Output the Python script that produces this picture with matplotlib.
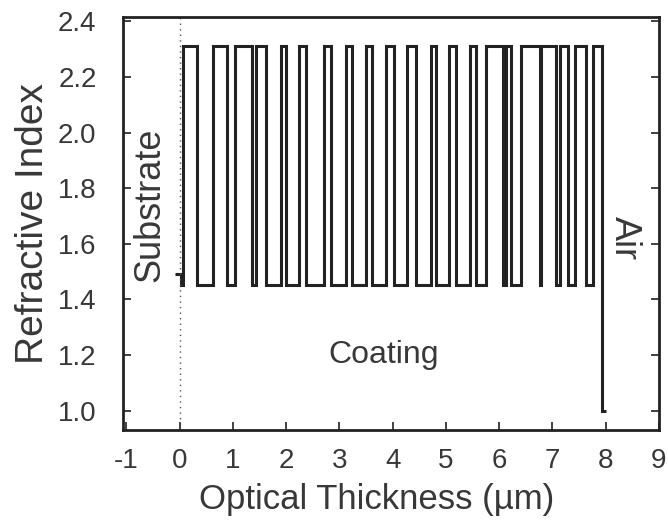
import matplotlib.pyplot as plt

# ─── Index profile: layer boundaries (optical thickness, µm) and indices ─────

edges = [-0.08, 0.02, 0.07, 0.32, 0.62, 0.88, 1.03, 1.35, 1.44, 1.63,
         1.90, 2.00, 2.24, 2.37, 2.71, 2.84, 3.12, 3.23, 3.50, 3.61,
         3.87, 4.02, 4.26, 4.43, 4.71, 4.82, 5.05, 5.18, 5.46, 5.57,
         5.76, 6.07, 6.13, 6.22, 6.41, 6.77, 6.79, 7.07, 7.14, 7.29,
         7.42, 7.63, 7.76, 7.93, 8.00]

n_sub, n_low, n_high, n_air = 1.49, 1.45, 2.31, 1.00

index = [n_sub,
         n_low, n_high, n_low, n_high, n_low, n_high, n_low, n_high,
         n_low, n_high, n_low, n_high, n_low, n_high, n_low, n_high,
         n_low, n_high, n_low, n_high, n_low, n_high, n_low, n_high,
         n_low, n_high, n_low, n_high, n_low, n_high, n_low, n_high,
         n_low, n_high, n_low, n_high, n_low, n_high, n_low, n_high,
         n_low, n_high,
         n_air]

x_ticks = list(range(-1, 10))
y_ticks = [1.0, 1.2, 1.4, 1.6, 1.8, 2.0, 2.2, 2.4]

ink = '#222222'
label_ink = '#383838'
plt.rcParams['font.family'] = ['Liberation Sans', 'DejaVu Sans']

fig = plt.figure(figsize=(6.68, 5.25), dpi=100)
ax = fig.add_axes([0.1841, 0.181, 0.8024, 0.7867])

# layer staircase
ax.stairs(index, edges, baseline=None, color=ink, linewidth=2.2)

# substrate / coating interface
ax.axvline(0, color='#555555', linewidth=1.0, linestyle=(0, (1, 3)))

# region labels
ax.text(-0.56, 1.74, 'Substrate', rotation=90, ha='center', va='center',
        fontsize=26, color=label_ink)
ax.text(8.36, 1.62, 'Air', rotation=-90, ha='center', va='center',
        fontsize=26, color=label_ink)
ax.text(3.83, 1.2, 'Coating', ha='center', va='center',
        fontsize=23, color=label_ink)

ax.set_xlim(-1.065, 8.95)
ax.set_ylim(0.93, 2.416)
ax.set_xticks(x_ticks)
ax.set_xticklabels([str(v) for v in x_ticks])
ax.set_yticks(y_ticks)
ax.set_yticklabels([f'{v:.1f}' for v in y_ticks])
ax.tick_params(direction='in', length=6, width=1.2, color=ink,
               labelcolor=label_ink, labelsize=20, right=True)
ax.tick_params(axis='y', pad=19)
ax.tick_params(axis='x', pad=13)

for s in ax.spines.values():
    s.set_linewidth(2.0)
    s.set_color(ink)

ax.set_xlabel('Optical Thickness (µm)', fontsize=25, color=label_ink)
ax.xaxis.set_label_coords(0.474, -0.128)
ax.set_ylabel('Refractive Index', fontsize=28, color=label_ink, labelpad=5)

fig.savefig('out.png', dpi=100)
